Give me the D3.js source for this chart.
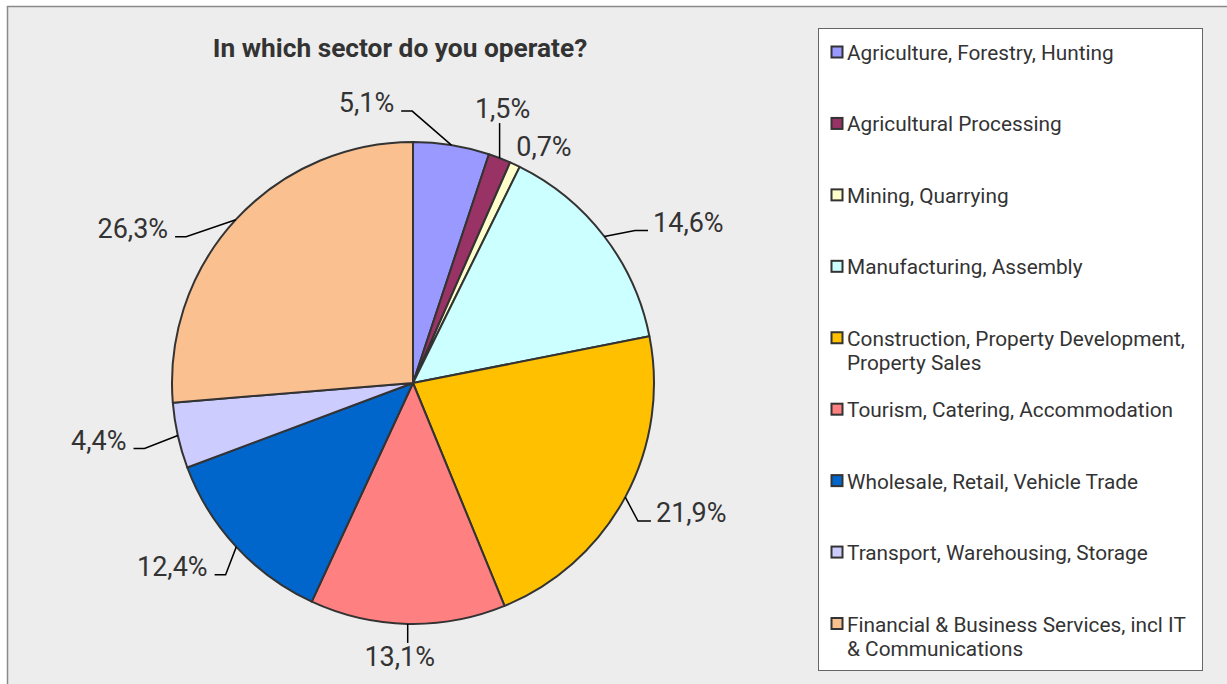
<!DOCTYPE html>
<html>
<head>
<meta charset="utf-8">
<script src="https://cdn.jsdelivr.net/npm/d3@7/dist/d3.min.js"></script>
<style>
  html, body { margin: 0; padding: 0; background: #ffffff; }
  svg { display: block; }
</style>
</head>
<body>
<svg id="chart" width="1227" height="684"></svg>
<script>
// Survey answers: share of respondents per sector (%)
const sectors = [
  "Agriculture, Forestry, Hunting",
  "Agricultural Processing",
  "Mining, Quarrying",
  "Manufacturing, Assembly",
  "Construction, Property Development, Property Sales",
  "Tourism, Catering, Accommodation",
  "Wholesale, Retail, Vehicle Trade",
  "Transport, Warehousing, Storage",
  "Financial & Business Services, incl IT & Communications"
];
const shares = [5.1, 1.5, 0.7, 14.6, 21.9, 13.1, 12.4, 4.4, 26.3];
const sliceColors = ["#9999ff", "#993366", "#ffffcc", "#ccffff", "#ffc000",
                     "#ff8080", "#0066cc", "#ccccff", "#fac090"];

// Legend text split into rendered lines
const legendLines = [
  ["Agriculture, Forestry, Hunting"],
  ["Agricultural Processing"],
  ["Mining, Quarrying"],
  ["Manufacturing, Assembly"],
  ["Construction, Property Development,", "Property Sales"],
  ["Tourism, Catering, Accommodation"],
  ["Wholesale, Retail, Vehicle Trade"],
  ["Transport, Warehousing, Storage"],
  ["Financial & Business Services, incl IT", "& Communications"]
];

// Data-label placement: centre offset from the slice's rim point, and leader style
const labelOffsets = [[-85, -42], [3, -49], [29, -18], [84, -14], [66, 16],
                      [-8, 33], [-64, 20], [-79, 5], [-103, 9]];
const leaderStyle = ["elbow", "vertical", "none", "elbow", "elbow",
                     "vertical", "elbow", "elbow", "elbow"];

const svg = d3.select("#chart");
const W = 1227, H = 684;
const textColor = "#333333";
const fontFamily = "Roboto, 'Liberation Sans', Arial, sans-serif";

// Chart area background and frame
svg.append("rect")
  .attr("x", 7.5).attr("y", 6.5)
  .attr("width", W + 20).attr("height", H + 20)
  .attr("fill", "#ededed")
  .attr("stroke", "#8a8a8a")
  .attr("stroke-width", 1.5);

// Title
svg.append("text")
  .attr("x", 400).attr("y", 57)
  .attr("text-anchor", "middle")
  .attr("font-family", fontFamily)
  .attr("font-weight", "bold")
  .attr("font-size", 26.3)
  .attr("fill", textColor)
  .text("In which sector do you operate?");

// Pie
const cx = 413, cy = 383, radius = 241;
const pie = d3.pie().sort(null).value(d => d)
  .startAngle(0).endAngle(2 * Math.PI);
const arcs = pie(shares);
const arcGen = d3.arc().innerRadius(0).outerRadius(radius);

const g = svg.append("g").attr("transform", `translate(${cx},${cy})`);
g.selectAll("path.slice")
  .data(arcs)
  .join("path")
  .attr("class", "slice")
  .attr("d", arcGen)
  .attr("fill", (d, i) => sliceColors[i])
  .attr("stroke", "#333333")
  .attr("stroke-width", 2)
  .attr("stroke-linejoin", "round");

// Data labels with leader lines
const fmt = v => d3.format(".1f")(v).replace(".", ",") + "%";
const rimPoint = d => {
  const a = (d.startAngle + d.endAngle) / 2;
  return [radius * Math.sin(a), -radius * Math.cos(a)];
};

arcs.forEach((d, i) => {
  const [ax, ay] = rimPoint(d);
  const [ox, oy] = labelOffsets[i];
  const lx = ax + ox, ly = ay + oy;
  const t = g.append("text")
    .attr("x", lx).attr("y", ly)
    .attr("text-anchor", "middle")
    .attr("dominant-baseline", "central")
    .attr("font-family", fontFamily)
    .attr("font-size", 27)
    .attr("fill", textColor)
    .text(fmt(d.data));
  const bb = t.node().getBBox();
  let pts = null;
  if (leaderStyle[i] === "vertical") {
    // straight drop from the rim to just short of the label
    const yy = oy < 0 ? ly + 14 : ly - 14;
    pts = [[ax, ay], [ax, yy]];
  } else if (leaderStyle[i] === "elbow") {
    // slanted segment, then a short horizontal run towards the label
    const yy = ly + 8;
    if (ox > 0) {
      const xe = bb.x - 5;
      pts = [[ax, ay], [xe - 13, yy], [xe, yy]];
    } else {
      const xe = bb.x + bb.width + 7;
      pts = [[ax, ay], [xe + 11, yy], [xe, yy]];
    }
  }
  if (pts) {
    g.insert("path", "text")
      .attr("d", d3.line()(pts))
      .attr("fill", "none")
      .attr("stroke", "#000000")
      .attr("stroke-width", 1.5);
  }
});

// Legend
const legend = svg.append("g");
legend.append("rect")
  .attr("x", 818.5).attr("y", 28.5)
  .attr("width", 384).attr("height", 642)
  .attr("fill", "#ffffff")
  .attr("stroke", "#666666")
  .attr("stroke-width", 1);

const legendY = d3.scalePoint().domain(d3.range(sectors.length)).range([52, 623.5]);
const items = legend.selectAll("g.item")
  .data(sectors)
  .join("g")
  .attr("class", "item")
  .attr("transform", (d, i) => `translate(0,${legendY(i)})`);

items.append("rect")
  .attr("x", 831.5).attr("y", -5.5)
  .attr("width", 11).attr("height", 11)
  .attr("fill", (d, i) => sliceColors[i])
  .attr("stroke", "#333333")
  .attr("stroke-width", 2);

items.append("text")
  .attr("font-family", fontFamily)
  .attr("font-size", 20.8)
  .attr("fill", textColor)
  .each(function (d, i) {
    d3.select(this).selectAll("tspan")
      .data(legendLines[i])
      .join("tspan")
      .attr("x", 847)
      .attr("y", (s, j) => 8 + j * 24)
      .text(s => s);
  });
</script>
</body>
</html>
